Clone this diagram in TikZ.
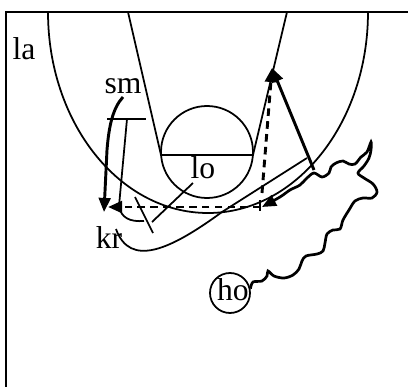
\documentclass[tikz,border=0pt]{standalone}
\usepackage{fontspec}
\setmainfont{Liberation Serif}
\usetikzlibrary{arrows.meta}
\tikzset{
  court/.style={line width=1.5pt},
  cut/.style={line width=2.5pt,-{Triangle[length=12pt,width=10pt]}},
  pass/.style={cut,dash pattern=on 6.5pt off 4.5pt},
  dribble/.style={line width=2.3pt,-{Triangle[length=12pt,width=10pt]}},
  lbl/.style={inner sep=0pt,font=\fontsize{27}{30}\selectfont},
}
\begin{document}
\begin{tikzpicture}[x=0.03cm,y=-0.03cm]
\useasboundingbox (0,0) rectangle (408,387);
% 半场示意
\draw[line width=1.8pt] (6,387) -- (6,12) -- (408,12);
\draw[court] (48,12) arc[start angle=180,end angle=0,x radius=160,y radius=201];
\draw[court] (128,12) -- (161,155) -- (253,155) -- (287,12);
\draw[court] (207,152) circle[radius=46];
\node[lbl] (la) at (24,49) {la};
\node[lbl] (sm) at (123,86) {sm};
\node[lbl] (lo) at (203,168) {lo};
\node[lbl] (kr) at (109,238) {kr};
\node[draw,circle,minimum size=1.2cm,inner sep=0pt,line width=1.5pt] (hoc) at (230,293) {};
\node[lbl] (ho) at (233,290) {ho};
\coordinate (top) at (272,68);
\coordinate (cornerL) at (104,212);
\coordinate (dashL) at (108,207);
\coordinate (dashR) at (261,207);
\coordinate (dribEnd) at (262,207);
% 移动路线
\draw[cut] (123,97) .. controls (113,108) and (109,125) .. (107,150) -- (cornerL);
\draw[court] (107,119) -- (146,119);
\draw[court] (127,119) -- (119,206) .. controls (121,218) and (130,222) .. (144,221);
\draw[court] (135,197) -- (153,233);
\draw[court] (193,183) -- (152,222);
\draw[pass] (dashR) -- (dashL);
\draw[court] (260,200) -- (260,211);
\draw[pass] (262,193) -- (top);
\draw[cut] (314,170) -- (top);
\draw[court] (116,229) .. controls (130,268) and (170,250) .. (222,212) -- (307,158);
\draw[dribble] plot[smooth,tension=0.55] coordinates {(hoc.12) (253,282) (262,281) (267,276) (268,271)
  (274,276) (284,278) (293,275) (299,269) (302,261) (306,256) (317,254) (323,251) (325,243)
  (327,234) (333,230) (340,229) (343,220) (349,210) (355,201) (363,198) (372,198) (377,192)
  (373,184) (364,178) (358,173) (364,166) (369,158) (371,150) (371,142) (367,152) (361,157)
  (355,164) (349,164) (343,161) (336,163) (331,167) (329,173) (322,177) (314,173) (307,178)
  (300,185) (290,190) (280,197) (dribEnd)};
\end{tikzpicture}
\end{document}
